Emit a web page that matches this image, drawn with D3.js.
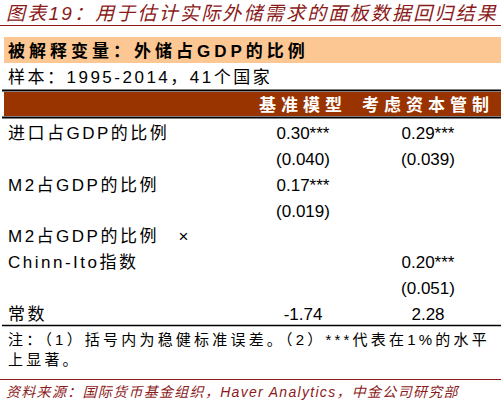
<!DOCTYPE html>
<html><head><meta charset="utf-8">
<script src="https://cdn.jsdelivr.net/npm/d3@7"></script>
<style>body{margin:0;background:#fff}</style></head>
<body><svg id="c" width="501" height="403"></svg>
<script>
const title = "图表19：用于估计实际外储需求的面板数据回归结果";
const subtitle = "被解释变量：外储占GDP的比例";
const sample = "样本：1995-2014，41个国家";
const columns = ["基准模型", "考虑资本管制"];
const rowLabels = ["进口占GDP的比例", "", "M2占GDP的比例", "", "M2占GDP的比例　×", "Chinn-Ito指数", "", "常数"];
const col1 = ["0.30***", "(0.040)", "0.17***", "(0.019)", "", "", "", "-1.74"];
const col2 = ["0.29***", "(0.039)", "", "", "", "0.20***", "(0.051)", "2.28"];
const notes = ["注：（1）括号内为稳健标准误差。（2）***代表在1%的水平", "上显著。"];
const source = "资料来源：国际货币基金组织，Haver Analytics，中金公司研究部";

const svg = d3.select("#c");
const F = "'Liberation Sans', Arial, 'Noto Sans CJK SC', sans-serif";
const red = "#8B1A1A";
svg.append("text").attr("x",6).attr("y",20).attr("fill",red).attr("font-style","italic")
  .attr("font-family",F).attr("font-size",19).attr("letter-spacing",2.2).text(title);
svg.append("line").attr("x1",0).attr("x2",501).attr("y1",25.5).attr("y2",25.5).attr("stroke",red).attr("stroke-width",1.2);
svg.append("rect").attr("x",4).attr("y",37).attr("width",497).attr("height",26).attr("fill","#FCC792");
svg.append("text").attr("x",8).attr("y",57).attr("font-family",F).attr("font-weight","bold").attr("font-size",17).attr("letter-spacing",4).text(subtitle);
svg.append("text").attr("x",8).attr("y",83).attr("font-family",F).attr("font-size",17).attr("letter-spacing",2.5).text(sample);
svg.append("line").attr("x1",2).attr("x2",501).attr("y1",90.5).attr("y2",90.5).attr("stroke","#000").attr("stroke-width",2);
svg.append("rect").attr("x",4).attr("y",92).attr("width",497).attr("height",24).attr("fill","#993300");
svg.append("line").attr("x1",2).attr("x2",501).attr("y1",117.5).attr("y2",117.5).attr("stroke","#000").attr("stroke-width",2);

const xc = d3.scaleOrdinal().domain(columns).range([303, 428]);
svg.selectAll(".hd").data(columns).join("text").attr("x",d=>xc(d)).attr("y",111)
  .attr("text-anchor","middle").attr("fill","#fff").attr("font-weight","bold").attr("font-family",F)
  .attr("font-size",17).attr("letter-spacing",5).text(d=>d);

const y = d3.scaleBand().domain(d3.range(rowLabels.length)).range([120, 327]);
const g = svg.append("g").attr("font-family",F).attr("font-size",17);
rowLabels.forEach((l,i)=>{
  const yy = y(i)+y.bandwidth()/2+6;
  g.append("text").attr("x",8).attr("y",yy).attr("letter-spacing",2.5).text(l);
  g.append("text").attr("x",xc(columns[0])).attr("y",yy).attr("text-anchor","middle").text(col1[i]);
  g.append("text").attr("x",xc(columns[1])).attr("y",yy).attr("text-anchor","middle").text(col2[i]);
});
svg.append("line").attr("x1",2).attr("x2",501).attr("y1",325.5).attr("y2",325.5).attr("stroke","#000").attr("stroke-width",1.5);
notes.forEach((n,i)=>svg.append("text").attr("x",8).attr("y",345+i*20).attr("font-family",F).attr("font-size",15).attr("letter-spacing",3.2).text(n));
svg.append("line").attr("x1",0).attr("x2",501).attr("y1",379.5).attr("y2",379.5).attr("stroke",red).attr("stroke-width",1);
svg.append("text").attr("x",6).attr("y",397).attr("fill",red).attr("font-style","italic")
  .attr("font-family",F).attr("font-size",14).attr("letter-spacing",1.3).text(source);
</script></body></html>
